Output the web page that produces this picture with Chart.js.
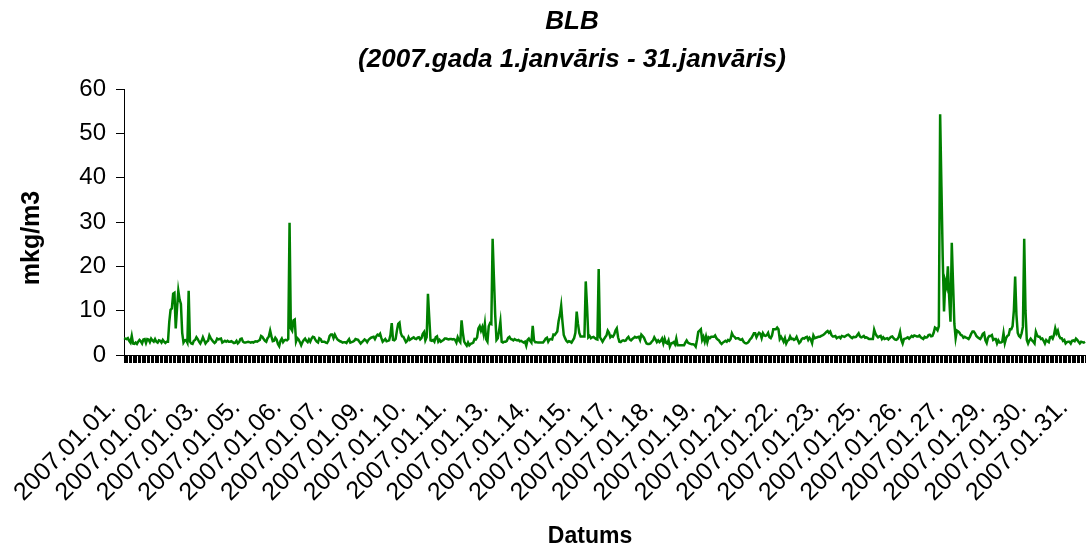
<!DOCTYPE html>
<html>
<head>
<meta charset="utf-8">
<script src="https://cdn.jsdelivr.net/npm/chart.js@4.4.1/dist/chart.umd.min.js"></script>
<style>
  html, body { margin: 0; padding: 0; background: #fff; }
  canvas { display: block; }
</style>
</head>
<body>
<canvas id="chart" width="1086" height="549"></canvas>
<script>
// hourly values, mkg/m3, one array per day of January 2007
const jan01 = [3.8,3.7,3.6,3.8,3.2,2.8,4.3,2.6,2.5,2.8,2.5,3.0,3.4,3.1,2.6,3.5,3.6,2.7,3.6,3.5,2.9,3.7,3.3,3.0]
const jan02 = [3.6,3.0,2.8,3.3,3.2,2.8,3.4,3.0,2.7,3.0,3.0,7.5,10.2,10.5,13.8,14.0,6.0,10.5,14.5,12.5,11.5,5.0,2.8,3.3]
const jan03 = [3.4,2.8,14.5,3.0,2.6,2.5,3.2,3.4,4.0,3.6,3.0,2.6,3.2,4.0,3.3,2.6,3.0,3.2,4.4,3.8,3.4,3.0,2.7,3.0]
const jan04 = [3.7,3.5,3.6,3.7,2.8,3.0,3.2,3.0,3.2,3.0,3.0,3.1,2.9,2.7,2.8,3.2,2.6,2.9,3.6,3.7,3.0,2.8,2.8,2.9]
const jan05 = [3.0,2.9,2.8,2.9,2.8,3.0,3.1,3.0,3.2,3.4,4.3,4.1,3.6,3.2,3.0,3.8,4.2,5.5,4.2,3.1,3.2,3.9,3.5,2.5]
const jan06 = [2.0,3.2,3.7,2.9,3.3,3.4,3.3,3.6,29.8,6.0,5.5,7.8,8.0,3.0,3.8,3.5,2.9,2.2,2.9,3.4,3.7,3.2,2.9,3.5]
const jan07 = [3.0,3.7,4.1,4.0,3.4,3.0,2.8,3.8,3.6,3.0,3.0,3.0,2.8,2.7,3.2,4.3,4.6,4.6,3.8,4.6,4.0,3.5,3.3,3.1]
const jan08 = [3.0,2.8,2.9,2.9,2.7,3.2,3.6,2.8,2.9,3.0,3.2,3.6,3.5,3.4,3.0,2.6,2.9,3.2,3.5,3.3,2.9,3.4,3.7,3.9]
const jan09 = [4.0,4.1,3.6,4.2,4.6,4.4,4.8,3.8,3.0,3.3,3.6,3.1,3.2,3.3,4.5,7.2,3.4,3.3,3.6,5.5,7.0,7.3,5.0,4.2]
const jan10 = [4.1,3.5,2.9,3.2,4.0,3.4,3.6,3.8,4.0,3.7,3.6,3.9,4.0,3.5,3.8,4.8,5.2,3.3,4.0,13.8,8.5,3.3,3.2,3.4]
const jan11 = [3.0,4.0,4.2,3.0,3.4,3.0,3.2,3.4,3.7,3.7,3.6,3.5,3.6,3.6,3.5,3.6,3.4,2.8,4.0,3.3,2.9,7.8,5.0,3.0]
const jan12 = [2.5,2.1,2.8,2.2,2.5,2.6,2.8,3.6,3.5,4.0,6.0,6.5,5.5,6.3,4.8,7.0,3.5,3.0,6.5,7.2,7.0,26.2,17.5,9.0]
const jan13 = [3.4,3.8,5.5,7.5,3.0,2.8,3.0,3.0,3.2,3.9,4.1,3.6,3.5,3.3,3.6,3.4,3.3,3.4,3.1,3.2,3.0,2.8,3.0,2.1]
const jan14 = [3.4,3.7,3.2,2.8,6.6,3.3,2.9,2.9,2.8,2.8,2.8,2.8,2.8,3.2,3.7,3.9,3.0,3.5,3.6,3.5,4.6,4.5,4.9,5.3]
const jan15 = [7.6,9.0,11.1,7.5,4.5,3.8,3.2,2.9,3.1,3.0,2.8,3.3,3.8,5.0,9.8,7.0,5.0,4.2,4.2,4.2,4.2,16.6,11.0,4.0]
const jan16 = [4.3,3.8,4.0,4.1,3.8,3.6,3.5,19.4,4.0,3.5,3.0,3.5,4.0,4.4,5.5,5.0,4.0,4.3,4.1,4.6,5.5,6.0,4.0,3.0]
const jan17 = [2.9,3.2,3.3,3.2,3.3,3.8,4.1,3.5,3.3,3.6,3.8,4.1,3.9,4.0,4.1,3.4,4.6,4.3,3.9,3.2,2.6,2.5,2.5,2.6]
const jan18 = [3.0,3.3,4.0,3.5,2.9,3.3,2.9,3.2,3.7,2.6,3.7,2.8,2.6,3.3,1.9,2.6,2.7,2.9,2.4,3.7,2.2,2.2,2.2,2.2]
const jan19 = [2.2,2.2,2.8,3.3,2.8,2.6,2.5,2.4,2.4,2.3,1.9,3.4,5.2,5.5,5.8,3.4,4.1,3.0,4.2,2.9,4.0,3.8,4.1,4.1]
const jan20 = [4.1,4.4,3.8,3.5,3.3,2.8,2.5,2.8,3.0,3.2,3.0,3.4,3.2,3.6,4.9,4.3,4.1,3.7,3.8,3.8,3.5,3.4,3.6,3.0]
const jan21 = [2.7,2.6,2.7,3.0,3.5,3.8,4.3,4.9,4.9,4.0,4.6,5.0,4.8,3.8,4.9,4.4,4.3,4.5,5.0,4.0,3.8,4.4,5.8,5.8]
const jan22 = [5.8,6.2,5.8,3.6,4.1,3.6,3.0,3.8,2.6,3.2,3.4,4.2,3.6,3.7,3.4,3.6,4.1,3.3,2.7,3.0,3.6,3.8,3.7,4.0]
const jan23 = [4.1,3.4,3.9,3.5,2.7,4.4,3.8,3.9,4.0,4.1,4.1,4.3,4.4,4.6,4.9,5.2,5.4,5.0,5.3,4.5,4.2,4.2,4.3,3.8]
const jan24 = [4.0,4.1,3.8,4.3,4.2,4.1,4.3,4.5,4.6,4.3,4.0,3.8,4.1,4.0,4.1,4.5,4.9,4.2,4.0,4.1,4.3,3.9,4.0,3.8]
const jan25 = [3.6,3.6,3.6,3.6,5.7,4.8,4.3,4.0,4.2,4.3,3.6,4.0,3.6,3.7,3.8,3.5,3.8,4.1,4.2,3.8,3.5,3.4,3.6,4.1]
const jan26 = [5.2,3.4,2.6,3.6,3.7,3.8,4.0,3.7,4.0,4.3,4.1,4.4,4.3,4.2,4.2,4.4,4.0,3.8,3.6,4.1,3.9,4.0,4.5,4.6]
const jan27 = [4.2,4.3,5.0,6.2,6.0,5.6,6.5,54.3,38.0,22.0,9.8,16.6,15.5,20.0,13.0,7.5,25.3,16.0,7.0,3.8,5.5,5.3,5.0,4.5]
const jan28 = [4.4,3.9,4.1,3.9,3.8,3.6,4.1,4.8,5.3,5.3,4.9,4.3,4.0,3.8,3.6,4.1,4.8,5.0,3.3,2.7,3.9,4.3,4.3,4.5]
const jan29 = [3.4,3.6,3.6,2.6,3.3,2.8,2.8,3.0,4.9,2.7,3.8,4.3,4.5,5.8,5.8,6.5,10.0,17.7,9.0,5.0,4.3,4.0,4.9,6.4]
const jan30 = [26.2,10.0,3.4,2.6,3.3,3.7,3.3,3.0,2.6,5.2,4.4,4.1,4.1,3.6,3.7,3.2,2.6,3.4,3.1,2.9,4.0,4.1,3.7,4.5]
const jan31 = [6.0,4.9,5.5,4.3,3.8,3.8,3.2,3.4,2.6,2.9,3.0,3.0,2.6,3.2,3.3,3.1,3.7,3.4,3.0,2.6,3.0,2.9,2.8,3.0]

const days = [
  "2007.01.01.", "2007.01.02.", "2007.01.03.", "2007.01.04.", "2007.01.05.", "2007.01.06.",
  "2007.01.07.", "2007.01.08.", "2007.01.09.", "2007.01.10.", "2007.01.11.", "2007.01.12.",
  "2007.01.13.", "2007.01.14.", "2007.01.15.", "2007.01.16.", "2007.01.17.", "2007.01.18.",
  "2007.01.19.", "2007.01.20.", "2007.01.21.", "2007.01.22.", "2007.01.23.", "2007.01.24.",
  "2007.01.25.", "2007.01.26.", "2007.01.27.", "2007.01.28.", "2007.01.29.", "2007.01.30.",
  "2007.01.31."
]

// Excel prints a label every 32nd hour
const tickLabels = [
  "2007.01.01.", "2007.01.02.", "2007.01.03.", "2007.01.05.", "2007.01.06.", "2007.01.07.",
  "2007.01.09.", "2007.01.10.", "2007.01.11.", "2007.01.13.", "2007.01.14.", "2007.01.15.",
  "2007.01.17.", "2007.01.18.", "2007.01.19.", "2007.01.21.", "2007.01.22.", "2007.01.23.",
  "2007.01.25.", "2007.01.26.", "2007.01.27.", "2007.01.29.", "2007.01.30.", "2007.01.31."
]
const labelStep = 32

const yMin = 0
const yMax = 60
const yStep = 10

const values = [
  jan01, jan02, jan03, jan04, jan05, jan06, jan07, jan08, jan09, jan10, jan11,
  jan12, jan13, jan14, jan15, jan16, jan17, jan18, jan19, jan20, jan21, jan22,
  jan23, jan24, jan25, jan26, jan27, jan28, jan29, jan30, jan31
].flat()
const categories = days.flatMap(d => Array(24).fill(d))

const FONT = "Arial, 'Liberation Sans', sans-serif"

// titles are drawn by hand: Excel puts them a bit left of the plot centre
const titlesPlugin = {
  id: "titles",
  afterDraw(chart) {
    const { ctx } = chart
    ctx.save()
    ctx.fillStyle = "#000"
    ctx.textAlign = "center"
    ctx.textBaseline = "middle"
    ctx.font = `italic bold 26px ${FONT}`
    ctx.fillText("BLB", 572, 22)
    ctx.fillText("(2007.gada 1.janvāris - 31.janvāris)", 572, 60)
    ctx.font = `bold 23px ${FONT}`
    ctx.fillText("Datums", 590, 537)
    ctx.font = `bold 25px ${FONT}`
    ctx.translate(32, 238)
    ctx.rotate(-Math.PI / 2)
    ctx.fillText("mkg/m3", 0, 0)
    ctx.restore()
  }
}

new Chart(document.getElementById("chart"), {
  type: "line",
  data: {
    labels: categories,
    datasets: [{
      data: values,
      borderColor: "#008000",
      borderWidth: 2.5,
      pointRadius: 0,
      tension: 0,
      fill: false
    }]
  },
  options: {
    responsive: false,
    animation: false,
    devicePixelRatio: 1,
    layout: { padding: { top: 89, right: 1, left: 0, bottom: 0 } },
    plugins: { legend: { display: false }, tooltip: { enabled: false } },
    scales: {
      x: {
        offset: false,
        border: { display: true, color: "#000", width: 1 },
        grid: { drawOnChartArea: false, drawTicks: true, tickLength: 8, color: "#000", lineWidth: 1 },
        ticks: {
          autoSkip: false,
          minRotation: 45,
          maxRotation: 45,
          padding: 30,
          labelOffset: -12,
          color: "#000",
          font: { family: FONT, size: 25 },
          callback: (value, index) => index % labelStep === 0 ? tickLabels[index / labelStep] : ""
        },
        afterFit: (scale) => {
          scale.height = 194
          scale.paddingLeft = 0
          scale.paddingRight = 0
        }
      },
      y: {
        min: yMin,
        max: yMax,
        border: { display: true, color: "#000", width: 1 },
        grid: { drawOnChartArea: false, tickLength: 8, color: "#000" },
        ticks: { stepSize: yStep, padding: 10, color: "#000", font: { family: FONT, size: 24 } },
        afterFit: (scale) => { scale.width = 124 }
      }
    }
  },
  plugins: [titlesPlugin]
})
</script>
</body>
</html>
